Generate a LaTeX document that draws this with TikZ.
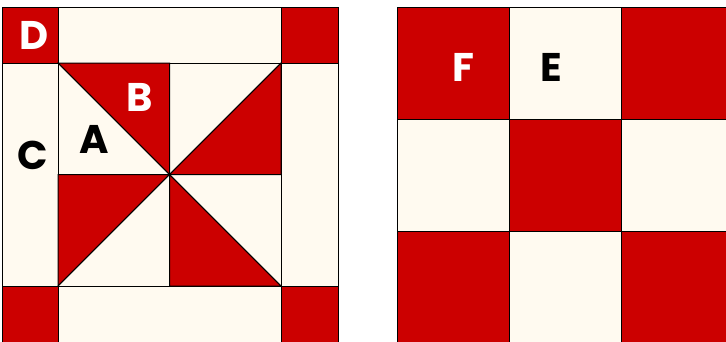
\documentclass[tikz,border=0pt]{standalone}
\usepackage{fontspec}
\newfontfamily\quiltfont{Poppins}
\definecolor{quiltred}{RGB}{204,0,0}
\definecolor{quiltcream}{RGB}{255,250,240}
\tikzset{lbl/.style={font=\quiltfont\bfseries\fontsize{40}{42}\selectfont, anchor=base, inner sep=0pt}}
\begin{document}
\begin{tikzpicture}[x=1pt, y=-1pt, line width=1pt]
\useasboundingbox (0,0) rectangle (726,341);
\clip (0,0) rectangle (726,341);
\filldraw[fill=quiltcream] (2,7) rectangle (338,343);
\filldraw[fill=quiltred] (2,7) rectangle (58,63);
\filldraw[fill=quiltred] (281,7) rectangle (338,63);
\filldraw[fill=quiltred] (2,286) rectangle (58,343);
\filldraw[fill=quiltred] (281,286) rectangle (338,343);
\draw (58,7) -- (58,343);
\draw (281,7) -- (281,343);
\draw (2,63) -- (338,63);
\draw (2,286) -- (338,286);
\filldraw[fill=quiltred] (58,63) -- (169.5,63) -- (169.5,174.5) -- cycle;
\filldraw[fill=quiltred] (169.5,174.5) -- (281,174.5) -- (281,63) -- cycle;
\filldraw[fill=quiltred] (58,174.5) -- (169.5,174.5) -- (58,286) -- cycle;
\filldraw[fill=quiltred] (169.5,174.5) -- (169.5,286) -- (281,286) -- cycle;
\draw (169.5,63) -- (169.5,286);
\draw (58,174.5) -- (281,174.5);
\draw (58,63) -- (281,286);
\draw (58,286) -- (281,63);
\fill[quiltcream] (397,7) rectangle (733,343);
\foreach \c/\r in {0/0,2/0,1/1,0/2,2/2}
  \fill[quiltred] ({397+112*\c},{7+112*\r}) rectangle ++(112,112);
\foreach \k in {0,...,3} {
  \draw ({397+112*\k},7) -- ({397+112*\k},343);
  \draw (397,{7+112*\k}) -- (733,{7+112*\k});
}
\node[lbl, text=white] (d) at (34.5,49) {D};
\node[lbl] (c) at (33,169.5) {C};
\node[lbl] (a) at (94,153) {A};
\node[lbl, text=white] (b) at (139.5,111) {B};
\node[lbl, text=white] (f) at (463.5,81) {F};
\node[lbl] (e) at (551.5,81) {E};
\end{tikzpicture}
\end{document}
